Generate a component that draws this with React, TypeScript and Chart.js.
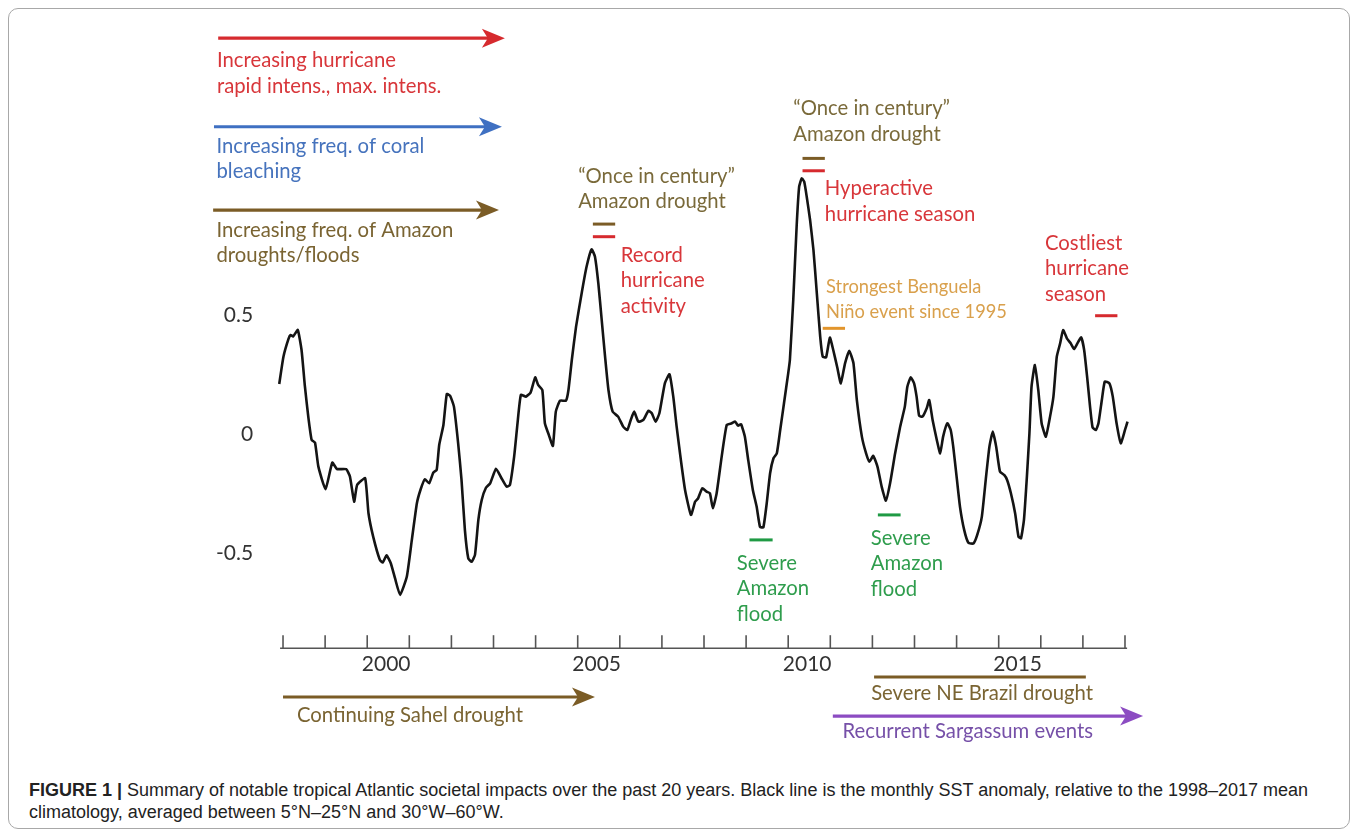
import React, { useEffect, useRef } from "react";
import { Chart, registerables } from "chart.js";

Chart.register(...registerables);

const years = [
  1997.91, 1998.01, 1998.13, 1998.18, 1998.24, 1998.35, 1998.44, 1998.52, 1998.6, 1998.68, 1998.76, 1998.84,
  1999.01, 1999.17, 1999.28, 1999.5, 1999.59, 1999.69, 1999.76, 1999.95, 2000.03, 2000.14, 2000.3, 2000.37,
  2000.46, 2000.56, 2000.66, 2000.78, 2000.94, 2001.06, 2001.18, 2001.27, 2001.37, 2001.47, 2001.57, 2001.65,
  2001.71, 2001.81, 2001.89, 2001.97, 2002.06, 2002.16, 2002.24, 2002.32, 2002.4, 2002.48, 2002.56, 2002.64,
  2002.72, 2002.82, 2002.92, 2003.06, 2003.19, 2003.31, 2003.39, 2003.49, 2003.57, 2003.65, 2003.77, 2003.88,
  2003.99, 2004.06, 2004.16, 2004.22, 2004.3, 2004.41, 2004.48, 2004.58, 2004.72, 2004.78, 2004.86, 2004.96,
  2005.1, 2005.21, 2005.33, 2005.41, 2005.49, 2005.57, 2005.65, 2005.73, 2005.83, 2005.96, 2006.08, 2006.18,
  2006.26, 2006.34, 2006.44, 2006.56, 2006.68, 2006.76, 2006.85, 2006.94, 2007.07, 2007.18, 2007.27, 2007.35,
  2007.45, 2007.55, 2007.69, 2007.79, 2007.86, 2007.96, 2008.06, 2008.14, 2008.21, 2008.3, 2008.42, 2008.54,
  2008.66, 2008.74, 2008.81, 2008.88, 2008.97, 2009.05, 2009.16, 2009.25, 2009.33, 2009.41, 2009.49, 2009.57,
  2009.65, 2009.73, 2009.81, 2009.9, 2010.0, 2010.04, 2010.12, 2010.2, 2010.26, 2010.32, 2010.38, 2010.44,
  2010.52, 2010.6, 2010.68, 2010.76, 2010.82, 2010.9, 2010.99, 2011.07, 2011.17, 2011.25, 2011.35, 2011.45,
  2011.55, 2011.63, 2011.75, 2011.85, 2011.93, 2012.02, 2012.12, 2012.22, 2012.32, 2012.42, 2012.54, 2012.66,
  2012.77, 2012.83, 2012.91, 2012.99, 2013.05, 2013.11, 2013.19, 2013.29, 2013.35, 2013.43, 2013.53, 2013.61,
  2013.68, 2013.78, 2013.86, 2013.92, 2014.0, 2014.08, 2014.18, 2014.28, 2014.4, 2014.49, 2014.6, 2014.7,
  2014.78, 2014.86, 2014.94, 2015.03, 2015.13, 2015.2, 2015.29, 2015.39, 2015.47, 2015.53, 2015.6, 2015.67,
  2015.73, 2015.78, 2015.86, 2015.94, 2016.02, 2016.12, 2016.22, 2016.3, 2016.38, 2016.46, 2016.53, 2016.62,
  2016.71, 2016.79, 2016.87, 2016.96, 2017.03, 2017.1, 2017.17, 2017.23, 2017.31, 2017.37, 2017.45, 2017.52,
  2017.63, 2017.71, 2017.8, 2017.9, 2018.0, 2018.06,
];
const anomaly = [
  0.21, 0.325, 0.4, 0.416, 0.41, 0.437, 0.353, 0.2, 0.073, -0.025, -0.036, -0.137,
  -0.232, -0.12, -0.147, -0.148, -0.179, -0.284, -0.214, -0.186, -0.333, -0.43, -0.529, -0.54,
  -0.51, -0.543, -0.606, -0.676, -0.6, -0.445, -0.291, -0.232, -0.19, -0.207, -0.162, -0.151,
  -0.046, 0.038, 0.168, 0.16, 0.115, -0.039, -0.193, -0.403, -0.522, -0.537, -0.508, -0.361,
  -0.277, -0.226, -0.207, -0.146, -0.186, -0.221, -0.214, -0.095, 0.045, 0.164, 0.157, 0.174,
  0.238, 0.206, 0.185, 0.045, 0.003, -0.05, 0.094, 0.14, 0.14, 0.185, 0.311, 0.45,
  0.598, 0.703, 0.776, 0.745, 0.633, 0.479, 0.325, 0.185, 0.094, 0.073, 0.031, 0.017,
  0.059, 0.094, 0.052, 0.059, 0.098, 0.087, 0.052, 0.087, 0.213, 0.251, 0.157, 0.031,
  -0.109, -0.235, -0.34, -0.284, -0.27, -0.228, -0.242, -0.249, -0.312, -0.249, -0.095, 0.038,
  0.045, 0.052, 0.035, 0.041, -0.011, -0.109, -0.235, -0.305, -0.39, -0.392, -0.291, -0.165,
  -0.102, -0.081, 0.017, 0.129, 0.255, 0.311, 0.563, 0.871, 1.039, 1.074, 1.06, 0.997,
  0.899, 0.773, 0.591, 0.409, 0.325, 0.322, 0.405, 0.353, 0.276, 0.213, 0.297, 0.35,
  0.297, 0.143, -0.011, -0.081, -0.116, -0.092, -0.137, -0.221, -0.28, -0.207, -0.081, 0.031,
  0.115, 0.199, 0.238, 0.213, 0.157, 0.077, 0.073, 0.108, 0.143, 0.059, -0.025, -0.081,
  -0.011, 0.045, 0.017, -0.053, -0.179, -0.305, -0.403, -0.457, -0.46, -0.424, -0.347, -0.179,
  -0.053, 0.01, -0.053, -0.158, -0.172, -0.193, -0.249, -0.333, -0.431, -0.438, -0.361, -0.179,
  0.003, 0.199, 0.29, 0.185, 0.045, -0.011, 0.073, 0.157, 0.325, 0.381, 0.437, 0.402,
  0.381, 0.357, 0.381, 0.406, 0.353, 0.241, 0.115, 0.028, 0.017, 0.045, 0.143, 0.22,
  0.213, 0.157, 0.045, -0.039, 0.017, 0.052,
];

// ---- Axis ticks ----
const yTickValues = [0.5, 0, -0.5];
const yTickLabels = ["0.5", "0", "-0.5"];
const xTickYears = [
  1998, 1999, 2000, 2001, 2002, 2003, 2004, 2005, 2006, 2007, 2008, 2009, 2010,
  2011, 2012, 2013, 2014, 2015, 2016, 2017, 2018,
];
const xLabelYears = [2000, 2005, 2010, 2015];
const xLabelTexts = ["2000", "2005", "2010", "2015"];

// ---- Annotations (anchored in data coordinates: year, anomaly) ----
const arrowStarts = [1996.46, 1996.36, 1996.34, 1998.0, 2011.06];
const arrowEnds = [2003.27, 2003.2, 2003.13, 2005.41, 2018.43];
const arrowLevels = [1.663, 1.291, 0.941, -1.105, -1.185];
const arrowColors = ["#d62a2e", "#3f70c2", "#7b5c26", "#7b5c26", "#8c4cc2"];

const barStarts = [2005.36, 2005.36, 2010.34, 2010.34, 2010.82, 2009.08, 2012.13, 2017.29, 2012.04];
const barEnds = [2005.89, 2005.89, 2010.87, 2010.87, 2011.35, 2009.63, 2012.67, 2017.82, 2017.07];
const barLevels = [0.882, 0.829, 1.158, 1.106, 0.444, -0.445, -0.34, 0.497, -1.021];
const barColors = ["#7b5c26", "#d62a2e", "#7b5c26", "#d62a2e", "#e2952c", "#1f9a44", "#1f9a44", "#d62a2e", "#7b5c26"];

const noteLines = [
  ["Increasing hurricane", "rapid intens., max. intens."],
  ["Increasing freq. of coral", "bleaching"],
  ["Increasing freq. of Amazon", "droughts/floods"],
  ["\u201cOnce in century\u201d", "Amazon drought"],
  ["Record", "hurricane", "activity"],
  ["\u201cOnce in century\u201d", "Amazon drought"],
  ["Hyperactive", "hurricane season"],
  ["Strongest Benguela", "Ni\u00f1o event since 1995"],
  ["Severe", "Amazon", "flood"],
  ["Severe", "Amazon", "flood"],
  ["Costliest", "hurricane", "season"],
  ["Continuing Sahel drought"],
  ["Severe NE Brazil drought"],
  ["Recurrent Sargassum events"],
];
const noteYears = [1996.43, 1996.42, 1996.42, 2005.01, 2006.02, 2010.12, 2010.87, 2010.9, 2008.78, 2011.96, 2016.1, 1998.33, 2011.97, 2011.29];
const noteLevels = [1.541, 1.182, 0.829, 1.056, 0.724, 1.34, 1.004, 0.591, -0.571, -0.466, 0.774, -1.21, -1.118, -1.277];
const noteColors = [
  "#d8363a", "#4673bd", "#7a6432", "#7a6a3a", "#d8363a", "#7a6a3a", "#d8363a",
  "#d9a04c", "#2f9d4d", "#2f9d4d", "#d8363a", "#7a6432", "#7a6432", "#7650a8",
];
const noteSmall = [false, false, false, false, false, false, false, true, false, false, false, false, false, false];

const FONT = "Lato, 'Open Sans', sans-serif";

const annotationPlugin = {
  id: "figureAnnotations",
  afterDatasetsDraw(chart: any) {
    const ctx: CanvasRenderingContext2D = chart.ctx;
    const xs = chart.scales.x;
    const ys = chart.scales.y;
    const area = chart.chartArea;
    const X = (v: number) => xs.getPixelForValue(v);
    const Y = (v: number) => ys.getPixelForValue(v);
    ctx.save();

    // x axis line and ticks
    const axisY = area.bottom;
    ctx.strokeStyle = "#555";
    ctx.lineWidth = 1.6;
    ctx.beginPath();
    ctx.moveTo(X(1997.93), axisY);
    ctx.lineTo(X(2018.05), axisY);
    ctx.stroke();
    xTickYears.forEach((yr) => {
      const px = X(yr);
      ctx.beginPath();
      ctx.moveTo(px, axisY);
      ctx.lineTo(px, axisY - 13);
      ctx.stroke();
    });

    ctx.fillStyle = "#333";
    ctx.font = `21px ${FONT}`;
    ctx.textBaseline = "middle";
    ctx.textAlign = "center";
    xLabelYears.forEach((yr, i) => {
      ctx.fillText(xLabelTexts[i], X(yr + 0.45), axisY + 16);
    });
    ctx.textAlign = "right";
    yTickValues.forEach((v, i) => {
      ctx.fillText(yTickLabels[i], X(1997.29), Y(v));
    });

    // arrows
    arrowStarts.forEach((x0, i) => {
      const x1 = X(arrowEnds[i]);
      const y = Y(arrowLevels[i]);
      ctx.strokeStyle = arrowColors[i];
      ctx.fillStyle = arrowColors[i];
      ctx.lineWidth = 3.2;
      ctx.beginPath();
      ctx.moveTo(X(x0), y);
      ctx.lineTo(x1 - 16, y);
      ctx.stroke();
      ctx.beginPath();
      ctx.moveTo(x1, y);
      ctx.lineTo(x1 - 23, y - 9.5);
      ctx.lineTo(x1 - 17, y);
      ctx.lineTo(x1 - 23, y + 9.5);
      ctx.closePath();
      ctx.fill();
    });

    // bars
    barStarts.forEach((x0, i) => {
      ctx.strokeStyle = barColors[i];
      ctx.lineWidth = 3;
      ctx.beginPath();
      ctx.moveTo(X(x0), Y(barLevels[i]));
      ctx.lineTo(X(barEnds[i]), Y(barLevels[i]));
      ctx.stroke();
    });

    // texts
    ctx.textAlign = "left";
    ctx.textBaseline = "alphabetic";
    noteLines.forEach((lines, i) => {
      const small = noteSmall[i];
      ctx.font = `${small ? 18.3 : 20.3}px ${FONT}`;
      ctx.fillStyle = noteColors[i];
      const lh = small ? 24.5 : 25.5;
      lines.forEach((t, k) => {
        ctx.fillText(t, X(noteYears[i]), Y(noteLevels[i]) + k * lh);
      });
    });
    ctx.restore();
  },
};

export default function App() {
  const ref = useRef<HTMLCanvasElement | null>(null);
  useEffect(() => {
    if (!ref.current) return;
    const chart = new Chart(ref.current, {
      type: "line",
      data: {
        datasets: [
          {
            data: years.map((x, i) => ({ x, y: anomaly[i] })),
            borderColor: "#141414",
            borderWidth: 2.6,
            pointRadius: 0,
            tension: 0.15,
            fill: false,
          },
        ],
      },
      options: {
        responsive: false,
        animation: false,
        layout: { padding: { left: 265.6, right: 219.8, top: 20.4, bottom: 100.8 } },
        scales: {
          x: { type: "linear", min: 1997.8, max: 2018.1, display: false },
          y: { type: "linear", min: -0.9, max: 1.7, display: false },
        },
        plugins: { legend: { display: false }, tooltip: { enabled: false } },
        events: [],
      },
      plugins: [annotationPlugin],
    });
    return () => chart.destroy();
  }, []);

  return (
    <div
      style={{
        position: "relative",
        width: 1342,
        height: 821,
        boxSizing: "border-box",
        border: "1px solid #a8a8a8",
        borderRadius: 10,
        background: "#fff",
      }}
    >
      <canvas ref={ref} width={1340} height={740} style={{ position: "absolute", left: 0, top: 0, display: "block" }} />
      <div
        style={{
          position: "absolute",
          left: 20,
          top: 770,
          fontFamily: "'Liberation Sans', Arial, sans-serif",
          fontSize: 18,
          lineHeight: "22px",
          color: "#222",
          whiteSpace: "nowrap",
        }}
      >
        <b>FIGURE 1 |</b> Summary of notable tropical Atlantic societal impacts over the past 20 years. Black line is the monthly SST anomaly, relative to the 1998–2017 mean
        <br />
        climatology, averaged between 5°N–25°N and 30°W–60°W.
      </div>
    </div>
  );
}
